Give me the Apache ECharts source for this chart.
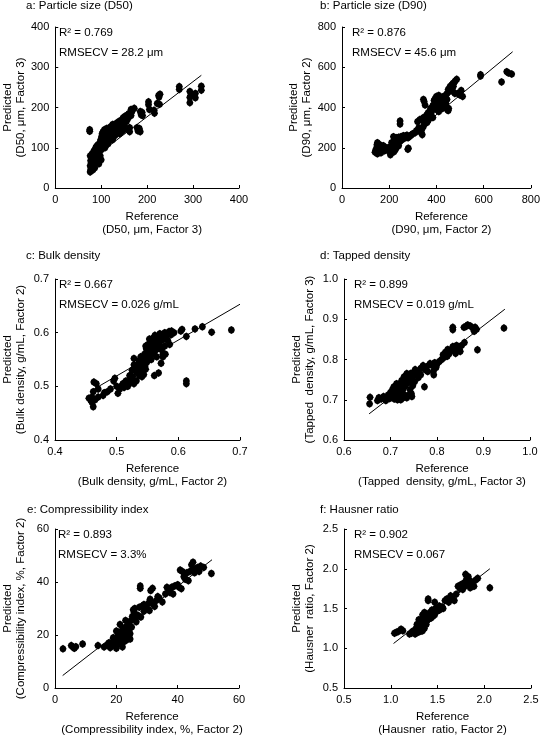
<!DOCTYPE html>
<html><head><meta charset="utf-8">
<script src="https://cdn.jsdelivr.net/npm/echarts@6/dist/echarts.min.js"></script>
<style>html,body{margin:0;padding:0;background:#fff}#c{width:543px;height:737px}</style>
</head><body><div id="c"></div>
<script>
const titles = ['a: Particle size (D50)','b: Particle size (D90)','c: Bulk density','d: Tapped density','e: Compressibility index','f: Hausner ratio'];
const xNames = ['Reference\n(D50, μm, Factor 3)','Reference\n(D90, μm, Factor 2)','Reference\n(Bulk density, g/mL, Factor 2)','Reference\n(Tapped  density, g/mL, Factor 3)','Reference\n(Compressibility index, %, Factor 2)','Reference\n(Hausner  ratio, Factor 2)'];
const yNames = ['Predicted\n(D50, μm, Factor 3)','Predicted\n(D90, μm, Factor 2)','Predicted\n(Bulk density, g/mL, Factor 2)','Predicted\n(Tapped  density, g/mL, Factor 3)','Predicted\n(Compressibility index, %, Factor 2)','Predicted\n(Hausner  ratio, Factor 2)'];
const r2Labels = ['R² = 0.769','R² = 0.876','R² = 0.667','R² = 0.899','R² = 0.893','R² = 0.902'];
const rmsecvLabels = ['RMSECV = 28.2 μm','RMSECV = 45.6 μm','RMSECV = 0.026 g/mL','RMSECV = 0.019 g/mL','RMSECV = 3.3%','RMSECV = 0.067'];
const axisMin = [0,0,0.4,0.6,0,0.5];
const axisMax = [400,800,0.7,1.0,60,2.5];
const axisStep = [100,200,0.1,0.1,20,0.5];
const tickDecimals = [0,0,1,1,0,1];

const dataA = [[75,145],[75,141],[76,40],[77,45],[78,50],[76,55],[78,62],[77,68],[79,72],[80,78],[76,80],[82,58],[81,65],[83,70],[84,76],[80,85],[85,82],[86,88],[84,92],[87,95],[88,100],[89,75],[90,85],[91,92],[92,98],[90,104],[93,108],[95,96],[95,88],[96,102],[97,110],[98,115],[99,120],[100,105],[100,95],[101,128],[102,135],[103,112],[104,118],[105,125],[106,132],[104,140],[107,145],[108,120],[110,128],[110,138],[112,115],[112,148],[114,132],[115,125],[116,140],[118,145],[120,135],[120,152],[122,128],[124,140],[125,158],[127,148],[128,135],[130,150],[132,160],[134,145],[135,140],[137,155],[138,165],[140,150],[142,160],[144,145],[145,170],[147,162],[148,175],[150,155],[152,178],[155,165],[155,180],[158,172],[160,185],[162,150],[162,140],[165,180],[165,195],[167,190],[172,198],[178,150],[180,142],[183,148],[185,140],[185,190],[187,182],[189,188],[190,180],[203,214],[203,207],[205,195],[215,193],[216,186],[222,210],[225,230],[228,233],[226,226],[227,208],[270,252],[270,245],[293,240],[293,225],[293,212],[295,230],[305,235],[305,224],[318,253],[318,243],[100,70],[98,80],[95,60],[92,75],[88,65],[86,50],[82,45],[110,105],[108,100],[115,110],[118,118],[125,120],[130,130],[140,135],[145,140],[150,145]];
const dataB = [[587,563],[587,556],[676,527],[698,578],[705,572],[719,566],[486,540],[480,532],[476,525],[470,520],[465,512],[472,505],[458,505],[450,490],[460,495],[455,480],[470,480],[478,470],[490,470],[500,462],[505,485],[445,470],[440,460],[430,455],[425,450],[420,440],[415,445],[410,460],[400,455],[395,445],[390,435],[400,425],[405,415],[412,425],[420,420],[430,430],[445,440],[450,385],[452,395],[345,440],[348,430],[352,412],[375,395],[380,380],[372,370],[378,360],[385,350],[370,345],[365,335],[360,325],[350,320],[345,305],[340,300],[338,290],[330,285],[335,275],[340,265],[345,350],[342,335],[246,333],[246,318],[300,270],[295,265],[290,260],[285,255],[280,250],[275,262],[270,258],[265,250],[255,245],[250,255],[240,252],[232,250],[225,245],[218,255],[222,235],[215,215],[210,225],[205,205],[200,195],[198,185],[190,200],[185,190],[180,185],[175,195],[170,185],[165,175],[160,200],[155,190],[152,180],[150,170],[148,215],[150,225],[145,195],[142,185],[140,178],[160,215],[175,210],[210,175],[215,185],[205,165],[220,180],[226,190],[230,200],[235,215],[240,210],[245,230],[255,240],[270,250],[279,192],[281,198],[260,260],[310,275],[315,285],[325,300],[320,330],[330,340],[355,355],[360,365],[365,375],[385,410],[395,400],[400,390],[410,380],[415,400],[425,395],[435,405],[440,420],[511,455],[447,388]];
const dataC = [[0.686,0.605],[0.654,0.601],[0.639,0.611],[0.627,0.607],[0.613,0.593],[0.606,0.606],[0.604,0.603],[0.613,0.510],[0.613,0.505],[0.590,0.600],[0.588,0.596],[0.585,0.602],[0.582,0.598],[0.580,0.592],[0.578,0.600],[0.576,0.588],[0.574,0.595],[0.572,0.585],[0.570,0.598],[0.569,0.578],[0.567,0.590],[0.566,0.570],[0.564,0.585],[0.563,0.575],[0.561,0.565],[0.560,0.580],[0.558,0.572],[0.557,0.560],[0.555,0.585],[0.556,0.550],[0.553,0.577],[0.552,0.565],[0.550,0.555],[0.549,0.545],[0.548,0.570],[0.546,0.538],[0.545,0.560],[0.543,0.550],[0.542,0.528],[0.540,0.545],[0.538,0.535],[0.537,0.520],[0.535,0.540],[0.533,0.525],[0.530,0.532],[0.528,0.552],[0.528,0.540],[0.526,0.518],[0.525,0.530],[0.523,0.512],[0.521,0.520],[0.520,0.505],[0.518,0.500],[0.515,0.510],[0.512,0.498],[0.510,0.505],[0.507,0.500],[0.505,0.495],[0.502,0.487],[0.500,0.500],[0.497,0.515],[0.495,0.510],[0.490,0.495],[0.485,0.490],[0.480,0.488],[0.478,0.483],[0.470,0.495],[0.467,0.505],[0.463,0.508],[0.462,0.490],[0.460,0.480],[0.458,0.474],[0.455,0.478],[0.460,0.470],[0.462,0.462],[0.465,0.475],[0.470,0.480],[0.575,0.555],[0.573,0.568],[0.578,0.575],[0.583,0.585],[0.586,0.578],[0.568,0.525],[0.561,0.520],[0.575,0.560],[0.562,0.595],[0.559,0.590],[0.556,0.582],[0.553,0.588],[0.551,0.578],[0.547,0.575],[0.544,0.522],[0.541,0.518],[0.539,0.555],[0.536,0.548],[0.532,0.510],[0.528,0.505],[0.547,0.532],[0.572,0.543],[0.579,0.560],[0.565,0.555],[0.589,0.603],[0.593,0.600]];
const dataD = [[0.944,0.878],[0.887,0.824],[0.834,0.880],[0.834,0.874],[0.858,0.880],[0.866,0.886],[0.872,0.883],[0.877,0.878],[0.882,0.880],[0.885,0.875],[0.880,0.870],[0.862,0.882],[0.859,0.842],[0.853,0.835],[0.848,0.830],[0.845,0.822],[0.842,0.835],[0.838,0.828],[0.834,0.832],[0.828,0.820],[0.823,0.825],[0.818,0.818],[0.813,0.812],[0.815,0.805],[0.822,0.808],[0.810,0.800],[0.805,0.795],[0.800,0.788],[0.795,0.792],[0.790,0.785],[0.792,0.770],[0.785,0.790],[0.778,0.782],[0.774,0.775],[0.773,0.732],[0.770,0.785],[0.765,0.778],[0.760,0.770],[0.757,0.762],[0.753,0.775],[0.750,0.768],[0.748,0.758],[0.745,0.750],[0.743,0.765],[0.740,0.752],[0.738,0.742],[0.736,0.755],[0.734,0.745],[0.732,0.735],[0.730,0.748],[0.728,0.728],[0.727,0.740],[0.725,0.720],[0.723,0.732],[0.721,0.712],[0.720,0.725],[0.718,0.705],[0.716,0.718],[0.714,0.728],[0.712,0.710],[0.710,0.722],[0.708,0.702],[0.706,0.715],[0.704,0.725],[0.702,0.708],[0.700,0.718],[0.698,0.703],[0.695,0.712],[0.692,0.705],[0.690,0.698],[0.685,0.708],[0.680,0.702],[0.675,0.705],[0.672,0.698],[0.656,0.706],[0.655,0.690],[0.745,0.715],[0.746,0.708],[0.740,0.712],[0.735,0.705],[0.730,0.712],[0.726,0.704],[0.722,0.700],[0.715,0.700],[0.742,0.725],[0.748,0.735],[0.752,0.745],[0.735,0.765],[0.729,0.757],[0.724,0.748],[0.719,0.738],[0.713,0.740],[0.707,0.732],[0.760,0.755],[0.765,0.762],[0.780,0.770],[0.793,0.762],[0.798,0.780],[0.826,0.814],[0.835,0.825],[0.840,0.815],[0.850,0.820]];
const dataE = [[2.6,14.8],[5.3,16.0],[5.8,15.5],[6.3,15.0],[6.8,15.6],[9.0,16.6],[14.0,16.0],[16.0,15.5],[17.0,16.2],[17.5,17.0],[18.0,15.2],[18.5,16.5],[19.0,17.8],[19.5,16.0],[20.0,15.0],[20.2,18.0],[20.5,19.5],[20.8,21.0],[21.0,16.8],[21.2,24.0],[21.5,20.2],[21.8,18.5],[22.0,22.0],[22.2,19.0],[22.5,17.5],[22.8,20.8],[23.0,23.0],[23.2,18.0],[23.5,21.5],[23.8,19.5],[24.0,24.5],[24.2,22.0],[24.5,20.5],[24.8,25.5],[25.0,23.0],[25.2,27.0],[25.5,29.5],[25.8,28.5],[26.0,26.5],[26.5,25.0],[27.0,27.5],[27.5,30.5],[27.8,38.5],[27.8,37.6],[28.0,26.8],[28.5,31.0],[29.0,29.0],[29.5,30.5],[30.0,30.0],[30.5,32.0],[31.0,33.5],[31.2,36.8],[31.8,37.6],[32.0,31.5],[32.5,30.8],[33.0,33.0],[34.0,34.0],[35.0,32.5],[36.0,35.5],[37.0,37.5],[37.5,36.0],[38.0,38.0],[38.5,35.5],[39.0,38.5],[40.0,39.0],[40.5,38.0],[40.8,44.5],[41.2,37.5],[41.5,44.0],[42.0,42.0],[42.5,41.0],[43.0,43.5],[43.5,40.5],[44.0,44.0],[44.5,46.5],[45.0,47.5],[45.2,45.0],[45.5,43.5],[46.0,44.5],[46.5,45.5],[47.0,44.0],[47.5,46.0],[48.5,45.5],[51.0,43.2],[22.0,15.5],[21.0,20.0],[23.0,25.5],[24.0,21.0],[26.0,30.0],[29.0,31.5],[30.8,29.2],[33.5,34.5],[36.5,38.0],[42.5,43.0],[19.0,19.0],[20.0,21.5],[24.5,18.5]];
const dataF = [[1.04,1.19],[1.06,1.20],[1.08,1.21],[1.11,1.24],[1.13,1.22],[1.20,1.18],[1.22,1.19],[1.24,1.20],[1.25,1.22],[1.26,1.18],[1.27,1.25],[1.28,1.21],[1.29,1.28],[1.30,1.23],[1.30,1.32],[1.31,1.26],[1.32,1.30],[1.33,1.35],[1.33,1.22],[1.34,1.28],[1.35,1.40],[1.35,1.33],[1.36,1.25],[1.37,1.38],[1.38,1.43],[1.38,1.30],[1.39,1.35],[1.40,1.62],[1.40,1.60],[1.41,1.42],[1.42,1.45],[1.43,1.38],[1.44,1.48],[1.45,1.40],[1.46,1.45],[1.47,1.58],[1.48,1.50],[1.50,1.47],[1.52,1.48],[1.55,1.52],[1.58,1.60],[1.60,1.62],[1.62,1.58],[1.64,1.66],[1.66,1.62],[1.68,1.60],[1.70,1.68],[1.72,1.78],[1.74,1.75],[1.75,1.80],[1.77,1.74],[1.79,1.78],[1.80,1.93],[1.81,1.87],[1.82,1.85],[1.84,1.80],[1.85,1.76],[1.87,1.82],[1.89,1.78],[1.91,1.86],[1.93,1.88],[2.06,1.76],[1.27,1.19],[1.29,1.20],[1.31,1.21],[1.32,1.24],[1.34,1.22],[1.36,1.30],[1.37,1.33],[1.39,1.40],[1.41,1.37],[1.23,1.21],[1.28,1.30],[1.30,1.36],[1.34,1.42],[1.36,1.45],[1.43,1.43],[1.47,1.42],[1.52,1.53],[1.56,1.50],[1.78,1.82],[1.83,1.90],[1.86,1.84]];

const fitA = [[75,68],[318,280]];
const fitB = [[215,185],[723,677]];
const fitC = [[0.462,0.494],[0.700,0.653]];
const fitD = [[0.654,0.665],[0.946,0.925]];
const fitE = [[2.5,4.7],[51.2,48.4]];
const fitF = [[1.03,1.06],[2.06,2.00]];

const allData = [dataA,dataB,dataC,dataD,dataE,dataF];
const allFits = [fitA,fitB,fitC,fitD,fitE,fitF];

const FONT = '"Liberation Sans", Arial, sans-serif';
const MARKER = 'path://M0,-4 L2.6,-2.4 L3.5,0 L2.6,2.4 L0,4 L-2.6,2.4 L-3.5,0 L-2.6,-2.4 Z';
const grids = [
  {left:52, top:27, width:187, height:161},
  {left:342, top:27, width:189, height:161},
  {left:52, top:279, width:188, height:161},
  {left:344, top:279, width:186, height:161},
  {left:51, top:529, width:188, height:161},
  {left:344, top:529, width:187, height:162}
];
const titlePos = [[26,7],[320,7],[26,257],[320,257],[27,511],[320,511]];

const xAxes = [], yAxes = [], series = [], graphics = [];
for (let i = 0; i < 6; i++) {
  const dec = tickDecimals[i];
  const common = {
    gridIndex: i, type: 'value', min: axisMin[i], max: axisMax[i], interval: axisStep[i],
    axisLine: {show: true, onZero: false, lineStyle: {color: '#000', width: 1}},
    axisTick: {show: true, inside: true, length: 3, lineStyle: {color: '#000'}},
    splitLine: {show: false},
    axisLabel: {fontSize: 11, color: '#000', fontFamily: FONT, margin: 6,
      formatter: v => Number(v).toFixed(dec)},
    nameLocation: 'middle',
    nameTextStyle: {fontSize: 11.5, color: '#000', fontFamily: FONT, lineHeight: 13}
  };
  xAxes.push(Object.assign({}, common, {name: xNames[i], nameGap: 22,
    nameTextStyle: Object.assign({}, common.nameTextStyle, {padding: [0,0,0,10]})}));
  yAxes.push(Object.assign({}, common, {name: yNames[i], nameGap: 28}));
  series.push({type: 'scatter', xAxisIndex: i, yAxisIndex: i, data: allData[i],
    symbol: MARKER, symbolSize: [7,8], itemStyle: {color: '#000', opacity: 1, borderWidth: 0}, z: 3, silent: true});
  series.push({type: 'line', xAxisIndex: i, yAxisIndex: i, data: allFits[i],
    symbol: 'none', lineStyle: {color: '#000', width: 1}, z: 2, silent: true});
  graphics.push({type: 'text', left: titlePos[i][0], top: titlePos[i][1] - 7,
    style: {text: titles[i], fill: '#000', font: '11.5px ' + FONT}});
  const g = grids[i];
  const ax = g.left + (i % 2 === 0 ? 7 : 10);
  graphics.push({type: 'text', left: ax, top: g.top + 0,
    style: {text: r2Labels[i], fill: '#000', font: '11.5px ' + FONT}});
  graphics.push({type: 'text', left: ax, top: g.top + 20,
    style: {text: rmsecvLabels[i], fill: '#000', font: '11.5px ' + FONT}});
}

const chart = echarts.init(document.getElementById('c'), null, {renderer: 'canvas'});
chart.setOption({
  animation: false,
  backgroundColor: '#fff',
  grid: grids,
  xAxis: xAxes,
  yAxis: yAxes,
  series: series,
  graphic: graphics
});
</script>
</body></html>
